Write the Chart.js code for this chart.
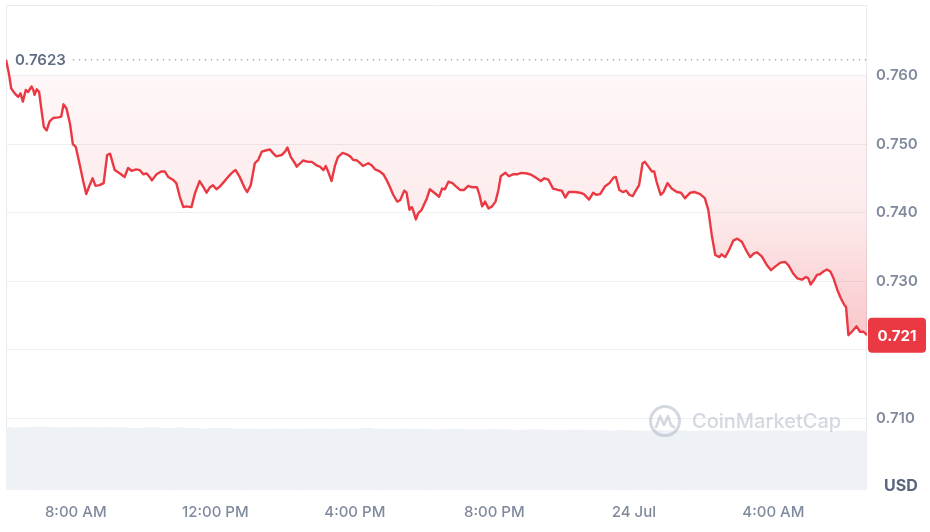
<!DOCTYPE html>
<html><head><meta charset="utf-8">
<script src="https://cdn.jsdelivr.net/npm/chart.js@4.4.1/dist/chart.umd.min.js"></script>
<style>html,body{margin:0;padding:0;background:#fff;}canvas{display:block}</style>
</head><body>
<canvas id="c" width="930" height="532"></canvas>
<script>
// ---- data (minutes since 00:00, 23 Jul) ----
const times = [
360,365,369,375,381,385,389,394,398,404,
407,409,413,417,421,425,430,435,441,450,
455,459,464,470,475,480,487,493,498,503,
509,514,521,528,534,539,547,556,564,570,
576,584,590,596,602,607,611,619,627,633,
639,647,653,659,665,670,679,685,693,699,
705,711,716,722,728,733,742,751,755,762,
771,775,781,788,794,800,808,814,820,825,
834,840,844,850,857,860,871,880,886,894,
900,906,910,914,920,926,931,939,946,952,
957,964,969,974,983,989,995,1003,1009,1015,
1020,1026,1033,1038,1045,1049,1054,1058,1060,1065,
1069,1075,1084,1089,1095,1101,1105,1110,1115,1121,
1128,1133,1141,1148,1155,1161,1170,1174,1179,1184,
1190,1196,1202,1207,1211,1219,1225,1233,1240,1247,
1256,1264,1273,1280,1286,1293,1301,1309,1316,1322,
1328,1339,1347,1354,1363,1370,1375,1382,1390,1398,
1405,1409,1415,1421,1427,1432,1438,1444,1449,1455,
1459,1465,1471,1475,1479,1486,1491,1498,1505,1514,
1521,1528,1537,1545,1554,1562,1568,1574,1580,1587,
1591,1597,1603,1611,1618,1626,1633,1640,1646,1652,
1660,1669,1676,1683,1692,1700,1706,1714,1721,1729,
1736,1740,1744,1750,1755,1760,1766,1772,1778,1783,
1790,1796,1802,1805,1809,1815,1823,1829,1835,1841
];
const prices = [
0.7623,0.7603,0.7581,0.7574,0.7569,0.7574,0.7562,0.7579,0.7576,0.7584,
0.7579,0.7572,0.7580,0.7576,0.7550,0.7525,0.7520,0.7533,0.7538,0.7539,
0.7540,0.7558,0.7552,0.7530,0.7500,0.7496,0.7469,0.7445,0.7427,0.7438,
0.7450,0.7439,0.7440,0.7443,0.7484,0.7486,0.7462,0.7457,0.7452,0.7465,
0.7461,0.7463,0.7462,0.7456,0.7457,0.7452,0.7447,0.7456,0.7460,0.7460,
0.7452,0.7448,0.7443,0.7423,0.7408,0.7409,0.7408,0.7428,0.7446,0.7438,
0.7429,0.7437,0.7440,0.7434,0.7438,0.7443,0.7452,0.7460,0.7462,0.7452,
0.7435,0.7430,0.7440,0.7472,0.7477,0.7489,0.7491,0.7492,0.7486,0.7482,
0.7484,0.7489,0.7495,0.7481,0.7472,0.7467,0.7476,0.7474,0.7474,0.7469,
0.7467,0.7462,0.7468,0.7460,0.7446,0.7469,0.7481,0.7487,0.7485,0.7482,
0.7477,0.7476,0.7472,0.7468,0.7472,0.7469,0.7463,0.7460,0.7456,0.7447,
0.7438,0.7426,0.7416,0.7418,0.7432,0.7429,0.7404,0.7408,0.7404,0.7390,
0.7399,0.7404,0.7421,0.7434,0.7430,0.7426,0.7423,0.7435,0.7434,0.7445,
0.7443,0.7439,0.7433,0.7433,0.7439,0.7437,0.7437,0.7427,0.7409,0.7416,
0.7406,0.7409,0.7416,0.7433,0.7453,0.7458,0.7453,0.7456,0.7456,0.7458,
0.7457,0.7455,0.7450,0.7446,0.7450,0.7448,0.7435,0.7433,0.7432,0.7422,
0.7430,0.7430,0.7429,0.7427,0.7419,0.7429,0.7426,0.7427,0.7438,0.7443,
0.7451,0.7452,0.7433,0.7430,0.7432,0.7426,0.7424,0.7433,0.7440,0.7472,
0.7474,0.7467,0.7460,0.7460,0.7445,0.7426,0.7430,0.7443,0.7435,0.7430,
0.7429,0.7421,0.7429,0.7430,0.7427,0.7421,0.7404,0.7367,0.7338,0.7335,
0.7339,0.7335,0.7344,0.7359,0.7362,0.7357,0.7345,0.7335,0.7340,0.7342,
0.7336,0.7323,0.7316,0.7321,0.7327,0.7328,0.7323,0.7311,0.7304,0.7302,
0.7306,0.7304,0.7295,0.7302,0.7309,0.7310,0.7314,0.7317,0.7314,0.7305,
0.7287,0.7275,0.7265,0.7262,0.7221,0.7226,0.7234,0.7226,0.7226,0.7221
];
const volumeValues = [
12.9,12.8,12.9,13.0,12.9,12.8,12.9,12.9,12.8,12.9,
12.8,12.7,12.8,12.8,12.7,12.8,12.7,12.6,12.7,12.7,
12.6,12.6,12.5,12.6,12.6,12.5,12.6,12.6,12.5,12.6,
12.6,12.7,12.6,12.5,12.6,12.5,12.5,12.4,12.5,12.5,
12.4,12.4,12.5,12.4,12.3,12.4,12.4,12.3,12.3,12.4,
12.3,12.3,12.2,12.3,12.2,12.2,12.3,12.2,12.2,12.1,
12.2,12.2,12.1,12.2,12.2,12.1,12.2,12.2,12.1,12.2,
12.2,12.1,12.2,12.2,12.1
];
const volumeStart = 360, volumeStep = 20;
const xTickValues = [480, 720, 960, 1200, 1440, 1680];
const xTickLabels = ['8:00 AM', '12:00 PM', '4:00 PM', '8:00 PM', '24 Jul', '4:00 AM'];
const yTickValues = [0.710, 0.720, 0.730, 0.740, 0.750, 0.760];
const xMin = 360, xMax = 1841;
const yMin = 0.6995, yMax = 0.7703;
const referencePrice = 0.7600;
const highLabel = '0.7623';
const lastLabel = '0.721';
const currencyLabel = 'USD';
const watermarkText = 'CoinMarketCap';

// ---- styles ----
const RED = '#ea3943';
const FONT = 'Inter, "Noto Sans", sans-serif';

const pricePoints = times.map((t, i) => ({x: t, y: prices[i]}));
const volumePoints = volumeValues.map((v, i) => ({x: volumeStart + i * volumeStep, y: v}));
const highPrice = Math.max(...prices);
const lastPrice = prices[prices.length - 1];

function fillGradient(ctx) {
  const chart = ctx.chart;
  const a = chart.chartArea;
  if (!a) return 'rgba(234,57,67,0.1)';
  const y = chart.scales.y;
  const y0 = y.getPixelForValue(referencePrice);
  const y1 = y.getPixelForValue(0.720);
  const g = chart.ctx.createLinearGradient(0, y0, 0, y1);
  g.addColorStop(0, 'rgba(234,57,67,0.04)');
  g.addColorStop(0.5, 'rgba(234,57,67,0.10)');
  g.addColorStop(1, 'rgba(234,57,67,0.30)');
  return g;
}

function roundRect(ctx, x, y, w, h, r) {
  ctx.beginPath();
  ctx.moveTo(x + r, y);
  ctx.lineTo(x + w - r, y); ctx.quadraticCurveTo(x + w, y, x + w, y + r);
  ctx.lineTo(x + w, y + h - r); ctx.quadraticCurveTo(x + w, y + h, x + w - r, y + h);
  ctx.lineTo(x + r, y + h); ctx.quadraticCurveTo(x, y + h, x, y + h - r);
  ctx.lineTo(x, y + r); ctx.quadraticCurveTo(x, y, x + r, y);
  ctx.closePath();
}

const overlay = {
  id: 'overlay',
  beforeDatasetsDraw(chart) {
    const {ctx, chartArea: a} = chart;
    ctx.save();
    ctx.strokeStyle = '#e8ebef';
    ctx.lineWidth = 1;
    ctx.beginPath();
    ctx.moveTo(a.left + 0.5, a.bottom);
    ctx.lineTo(a.left + 0.5, a.top + 0.5);
    ctx.lineTo(a.right - 0.5, a.top + 0.5);
    ctx.lineTo(a.right - 0.5, a.bottom);
    ctx.stroke();
    ctx.restore();
  },
  afterDatasetsDraw(chart) {
    const {ctx, chartArea: a} = chart;
    const ys = chart.scales.y;
    // watermark
    ctx.save();
    const cx = a.right - 202, cy = ys.getPixelForValue(0.710) + 3;
    ctx.strokeStyle = 'rgba(175,184,200,0.55)';
    ctx.lineWidth = 3;
    ctx.beginPath();
    ctx.arc(cx, cy, 14.5, 0, Math.PI * 2);
    ctx.stroke();
    ctx.lineWidth = 2.6;
    ctx.lineJoin = 'round';
    ctx.lineCap = 'round';
    ctx.beginPath();
    ctx.moveTo(cx - 9, cy + 6);
    ctx.lineTo(cx - 5, cy - 5);
    ctx.lineTo(cx - 1, cy + 4);
    ctx.lineTo(cx + 3, cy - 5);
    ctx.lineTo(cx + 6, cy + 4);
    ctx.lineTo(cx + 9, cy + 6);
    ctx.stroke();
    ctx.fillStyle = 'rgba(175,184,200,0.55)';
    ctx.font = '500 20px ' + FONT;
    ctx.textBaseline = 'middle';
    ctx.textAlign = 'left';
    ctx.fillText(watermarkText, cx + 27, cy + 1);
    ctx.restore();

    // dotted line at the period high
    const yh = ys.getPixelForValue(highPrice);
    ctx.save();
    ctx.font = '600 15px ' + FONT;
    const lw = ctx.measureText(highLabel).width;
    ctx.strokeStyle = '#a3acba';
    ctx.lineWidth = 1.4;
    ctx.setLineDash([1.4, 4.6]);
    ctx.beginPath();
    ctx.moveTo(a.left + 10 + lw + 6, yh);
    ctx.lineTo(a.right, yh);
    ctx.stroke();
    ctx.setLineDash([]);
    ctx.fillStyle = '#616e85';
    ctx.textBaseline = 'middle';
    ctx.textAlign = 'left';
    ctx.fillText(highLabel, a.left + 9, yh + 1);
    ctx.restore();
  },
  afterDraw(chart) {
    const {ctx, chartArea: a} = chart;
    const ys = chart.scales.y;
    ctx.save();
    // last price badge
    const yl = ys.getPixelForValue(lastPrice);
    ctx.fillStyle = RED;
    roundRect(ctx, a.right + 1, yl - 17.5, 58, 35, 4);
    ctx.fill();
    ctx.fillStyle = '#ffffff';
    ctx.font = '700 15px ' + FONT;
    ctx.textAlign = 'center';
    ctx.textBaseline = 'middle';
    ctx.fillText(lastLabel, a.right + 30, yl + 1);
    // currency
    ctx.fillStyle = '#58667e';
    ctx.font = '700 16px ' + FONT;
    ctx.textAlign = 'left';
    ctx.fillText(currencyLabel, a.right + 17, a.bottom - 4);
    ctx.restore();
  }
};

new Chart(document.getElementById('c'), {
  type: 'line',
  data: {
    datasets: [
      {
        type: 'line',
        data: pricePoints,
        borderColor: RED,
        borderWidth: 2.4,
        pointRadius: 0,
        tension: 0,
        borderJoinStyle: 'round',
        backgroundColor: fillGradient,
        fill: {value: referencePrice, above: 'rgba(0,0,0,0)'},
        yAxisID: 'y',
        order: 1
      },
      {
        type: 'bar',
        data: volumePoints,
        backgroundColor: '#eef1f5',
        borderWidth: 0,
        barPercentage: 1,
        categoryPercentage: 1,
        yAxisID: 'yv',
        order: 2
      }
    ]
  },
  options: {
    responsive: false,
    devicePixelRatio: 1,
    animation: false,
    events: [],
    layout: {padding: {left: 6, top: 5, right: 0, bottom: 0}},
    plugins: {legend: {display: false}, tooltip: {enabled: false}},
    scales: {
      x: {
        type: 'linear',
        min: xMin, max: xMax,
        offset: false,
        grid: {display: false, drawTicks: false},
        border: {display: false},
        afterBuildTicks: s => { s.ticks = xTickValues.map(v => ({value: v})); },
        afterFit: s => { s.height = 42; s.paddingLeft = 0; s.paddingRight = 0; },
        ticks: {
          autoSkip: false, maxRotation: 0, padding: 13,
          color: '#808a9d',
          font: {family: FONT, size: 15, weight: '500'},
          callback: v => xTickLabels[xTickValues.indexOf(v)]
        }
      },
      y: {
        position: 'right',
        min: yMin, max: yMax,
        grid: {color: '#eceff3', drawTicks: false, lineWidth: 1},
        border: {display: false},
        afterBuildTicks: s => { s.ticks = yTickValues.map(v => ({value: v})); },
        afterFit: s => { s.width = 63; s.paddingTop = 0; s.paddingBottom = 0; },
        ticks: {
          padding: 9,
          color: '#808a9d',
          font: {family: FONT, size: 15, weight: '600'},
          callback: v => Math.abs(v - lastPrice) < 0.003 ? '' : v.toFixed(3)
        }
      },
      yv: {
        display: false,
        min: 0, max: 100
      }
    }
  },
  plugins: [overlay]
});
</script>
</body></html>
